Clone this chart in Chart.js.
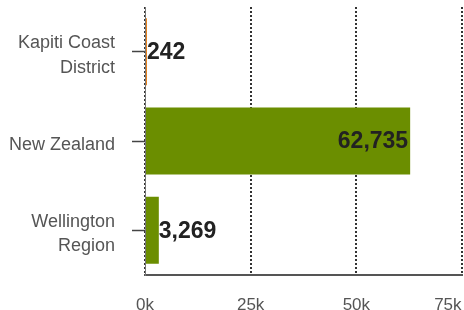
<!DOCTYPE html>
<html>
<head>
<meta charset="utf-8">
<script src="https://cdn.jsdelivr.net/npm/chart.js@4"></script>
<style>
  html, body { margin: 0; padding: 0; background: #fff; overflow: hidden; }
</style>
</head>
<body>
<canvas id="popChart" width="464" height="310"></canvas>
<script>
// areas and counts
const areas = [['Kapiti Coast', 'District'], 'New Zealand', ['Wellington', 'Region']];
const counts = [242, 62735, 3269];
const barColours = ['#e8821e', '#6b8e00', '#6b8e00'];
const xTickValues = [0, 25000, 50000, 75000];

// draw the value next to / inside each bar
const valueLabels = {
    id: 'valueLabels',
    afterDatasetsDraw(chart) {
        const ctx = chart.ctx;
        const meta = chart.getDatasetMeta(0);
        ctx.save();
        ctx.font = 'bold 23px "Liberation Sans", Arial, sans-serif';
        ctx.fillStyle = '#222';
        ctx.textBaseline = 'middle';
        meta.data.forEach((bar, i) => {
            const text = counts[i].toLocaleString('en-US');
            const w = ctx.measureText(text).width;
            if (bar.x - bar.base > w + 8) {
                ctx.textAlign = 'right';
                ctx.fillText(text, bar.x - 2, bar.y + 1);
            } else {
                ctx.textAlign = 'left';
                ctx.fillText(text, bar.x, bar.y + 1);
            }
        });
        ctx.restore();
    }
};

const ctx = document.getElementById('popChart').getContext('2d');
new Chart(ctx, {
    type: 'bar',
    data: {
        labels: areas,
        datasets: [{
            data: counts,
            backgroundColor: barColours,
            borderWidth: 0,
            minBarLength: 2,
            categoryPercentage: 1,
            barPercentage: 0.75
        }]
    },
    options: {
        indexAxis: 'y',
        responsive: false,
        animation: false,
        devicePixelRatio: 1,
        layout: { padding: { top: 7, left: 0, right: 2, bottom: 0 } },
        plugins: {
            legend: { display: false },
            tooltip: { enabled: false }
        },
        scales: {
            x: {
                min: 0,
                max: 75000,
                afterBuildTicks: (scale) => {
                    scale.ticks = xTickValues.map(v => ({ value: v }));
                },
                afterFit: (scale) => {
                    scale.height = 35;
                    scale.paddingLeft = 0;
                    scale.paddingRight = 0;
                },
                ticks: {
                    color: '#555',
                    padding: 20,
                    maxRotation: 0,
                    font: { family: '"Liberation Sans", Arial, sans-serif', size: 17 },
                    // last label is pushed inside the canvas edge
                    callback: (v) => (v / 1000) + 'k' + (v === 75000 ? '      ' : '')
                },
                grid: {
                    color: '#333',
                    lineWidth: 2,
                    drawTicks: false
                },
                border: { display: true, color: '#555', width: 2, dash: [2, 2] }
            },
            y: {
                afterFit: (scale) => {
                    scale.width = 145;
                    scale.paddingTop = 0;
                    scale.paddingBottom = 0;
                },
                ticks: {
                    color: '#555',
                    padding: 17,
                    labelOffset: 4,
                    font: { family: '"Liberation Sans", Arial, sans-serif', size: 18, lineHeight: 1.35 }
                },
                grid: {
                    offset: false,
                    drawOnChartArea: false,
                    drawTicks: true,
                    tickLength: 13,
                    tickWidth: 1.5,
                    color: '#444'
                },
                border: { display: true, color: '#777', width: 1 }
            }
        }
    },
    plugins: [valueLabels]
});
</script>
</body>
</html>
